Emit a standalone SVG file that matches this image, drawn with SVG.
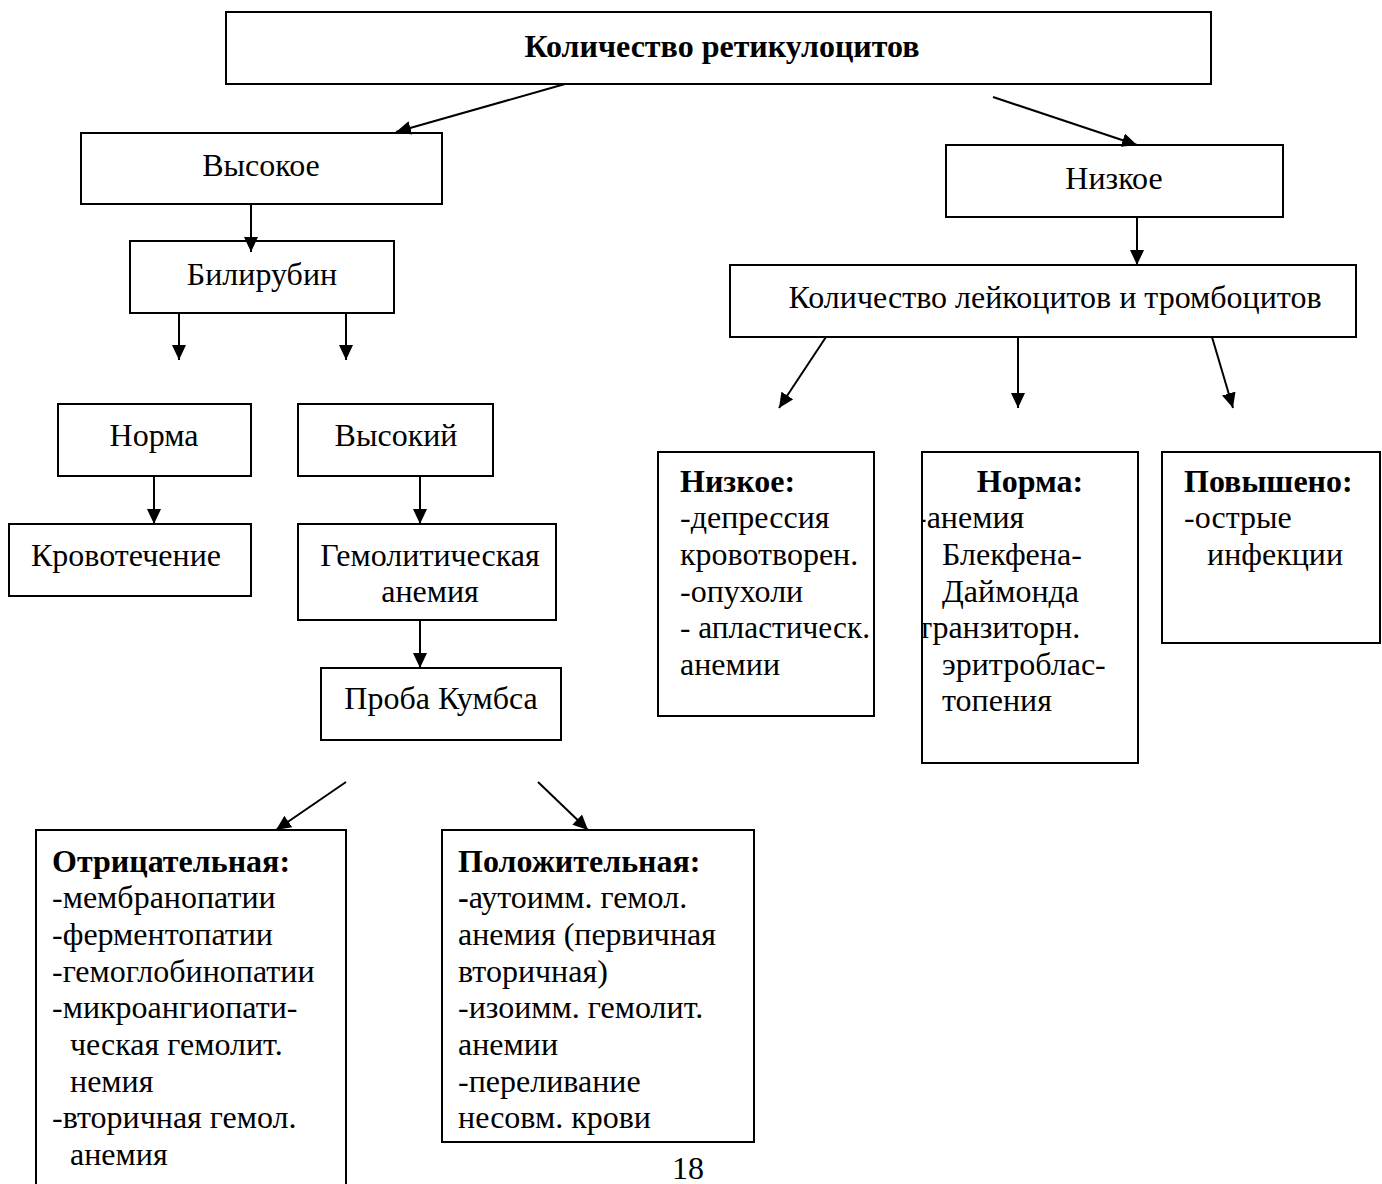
<svg xmlns="http://www.w3.org/2000/svg" width="1382" height="1184" viewBox="0 0 1382 1184">
<style>
.box{fill:#fff;stroke:#000;stroke-width:2}
text{font-family:"Liberation Serif","Times New Roman",serif;font-size:32px;fill:#000}
.c{text-anchor:middle}
.b{font-weight:bold}
.con line{stroke:#000;stroke-width:2;marker-end:url(#ah)}
</style>
<defs>
<marker id="ah" markerUnits="userSpaceOnUse" markerWidth="16" markerHeight="14" refX="15" refY="7" orient="auto">
<path d="M0,0 L15,7 L0,14 z" fill="#000"/>
</marker>
<clipPath id="clipNorm"><rect x="923" y="452" width="215" height="311"/></clipPath>
</defs>
<rect width="1382" height="1184" fill="#fff"/>

<g id="n-top"><rect class="box" x="226" y="12" width="985" height="72"/><text class="c b" x="722" y="57">Количество ретикулоцитов</text></g>
<g id="n-high"><rect class="box" x="81" y="133" width="361" height="71"/><text class="c" x="261" y="176">Высокое</text></g>
<g id="n-low"><rect class="box" x="946" y="145" width="337" height="72"/><text class="c" x="1114" y="189">Низкое</text></g>
<g id="n-bili"><rect class="box" x="130" y="241" width="264" height="72"/><text class="c" x="262" y="285">Билирубин</text></g>
<g id="n-klt"><rect class="box" x="730" y="265" width="626" height="72"/><text class="c" x="1055" y="308">Количество лейкоцитов и тромбоцитов</text></g>
<g id="n-norma"><rect class="box" x="58" y="404" width="193" height="72"/><text class="c" x="154" y="446">Норма</text></g>
<g id="n-vys"><rect class="box" x="298" y="404" width="195" height="72"/><text class="c" x="396" y="446">Высокий</text></g>
<g id="n-krov"><rect class="box" x="9" y="524" width="242" height="72"/><text class="c" x="126" y="566">Кровотечение</text></g>
<g id="n-gem"><rect class="box" x="298" y="524" width="258" height="96"/><text class="c" x="430" y="566">Гемолитическая</text><text class="c" x="430" y="602">анемия</text></g>
<g id="n-coombs"><rect class="box" x="321" y="668" width="240" height="72"/><text class="c" x="441" y="709">Проба Кумбса</text></g>

<g id="n-lowlist"><rect class="box" x="658" y="452" width="216" height="264"/>
<text x="680" y="492" class="b">Низкое:</text>
<text x="680" y="528">-депрессия</text>
<text x="680" y="565">кровотворен.</text>
<text x="680" y="602">-опухоли</text>
<text x="680" y="638" textLength="190" lengthAdjust="spacingAndGlyphs">- апластическ.</text>
<text x="680" y="675">анемии</text></g>

<g id="n-normlist"><rect class="box" x="922" y="452" width="216" height="311"/>
<text class="c b" x="1030" y="492">Норма:</text>
<g clip-path="url(#clipNorm)">
<text x="916" y="528">-анемия</text>
<text x="942" y="565">Блекфена-</text>
<text x="942" y="602">Даймонда</text>
<text x="918" y="638">транзиторн.</text>
<text x="942" y="675">эритроблас-</text>
<text x="942" y="711">топения</text>
</g></g>

<g id="n-uplist"><rect class="box" x="1162" y="452" width="218" height="191"/>
<text class="b" x="1184" y="492">Повышено:</text>
<text x="1184" y="528">-острые</text>
<text x="1207" y="565">инфекции</text></g>

<g id="n-neg"><rect class="box" x="36" y="830" width="310" height="360"/>
<text class="b" x="52" y="872">Отрицательная:</text>
<text x="52" y="908">-мембранопатии</text>
<text x="52" y="945">-ферментопатии</text>
<text x="52" y="982">-гемоглобинопатии</text>
<text x="52" y="1018">-микроангиопати-</text>
<text x="70" y="1055">ческая гемолит.</text>
<text x="70" y="1092">немия</text>
<text x="52" y="1128">-вторичная гемол.</text>
<text x="70" y="1165">анемия</text></g>

<g id="n-pos"><rect class="box" x="442" y="830" width="312" height="312"/>
<text class="b" x="458" y="872">Положительная:</text>
<text x="458" y="908"><tspan class="b">-</tspan>аутоимм. гемол.</text>
<text x="458" y="945">анемия (первичная</text>
<text x="458" y="982">вторичная)</text>
<text x="458" y="1018">-изоимм. гемолит.</text>
<text x="458" y="1055">анемии</text>
<text x="458" y="1092">-переливание</text>
<text x="458" y="1128">несовм. крови</text></g>

<text class="c" x="688" y="1179">18</text>

<g id="connectors" class="con">
<line x1="565" y1="84" x2="396" y2="132"/>
<line x1="993" y1="97" x2="1137" y2="145"/>
<line x1="251" y1="204" x2="251" y2="252"/>
<line x1="179" y1="313" x2="179" y2="360"/>
<line x1="346" y1="313" x2="346" y2="360"/>
<line x1="1137" y1="217" x2="1137" y2="265"/>
<line x1="826" y1="337" x2="779" y2="408"/>
<line x1="1018" y1="337" x2="1018" y2="408"/>
<line x1="1212" y1="337" x2="1233" y2="408"/>
<line x1="154" y1="476" x2="154" y2="524"/>
<line x1="420" y1="476" x2="420" y2="524"/>
<line x1="420" y1="620" x2="420" y2="668"/>
<line x1="346" y1="782" x2="276" y2="830"/>
<line x1="538" y1="782" x2="588" y2="830"/>
</g>
</svg>
